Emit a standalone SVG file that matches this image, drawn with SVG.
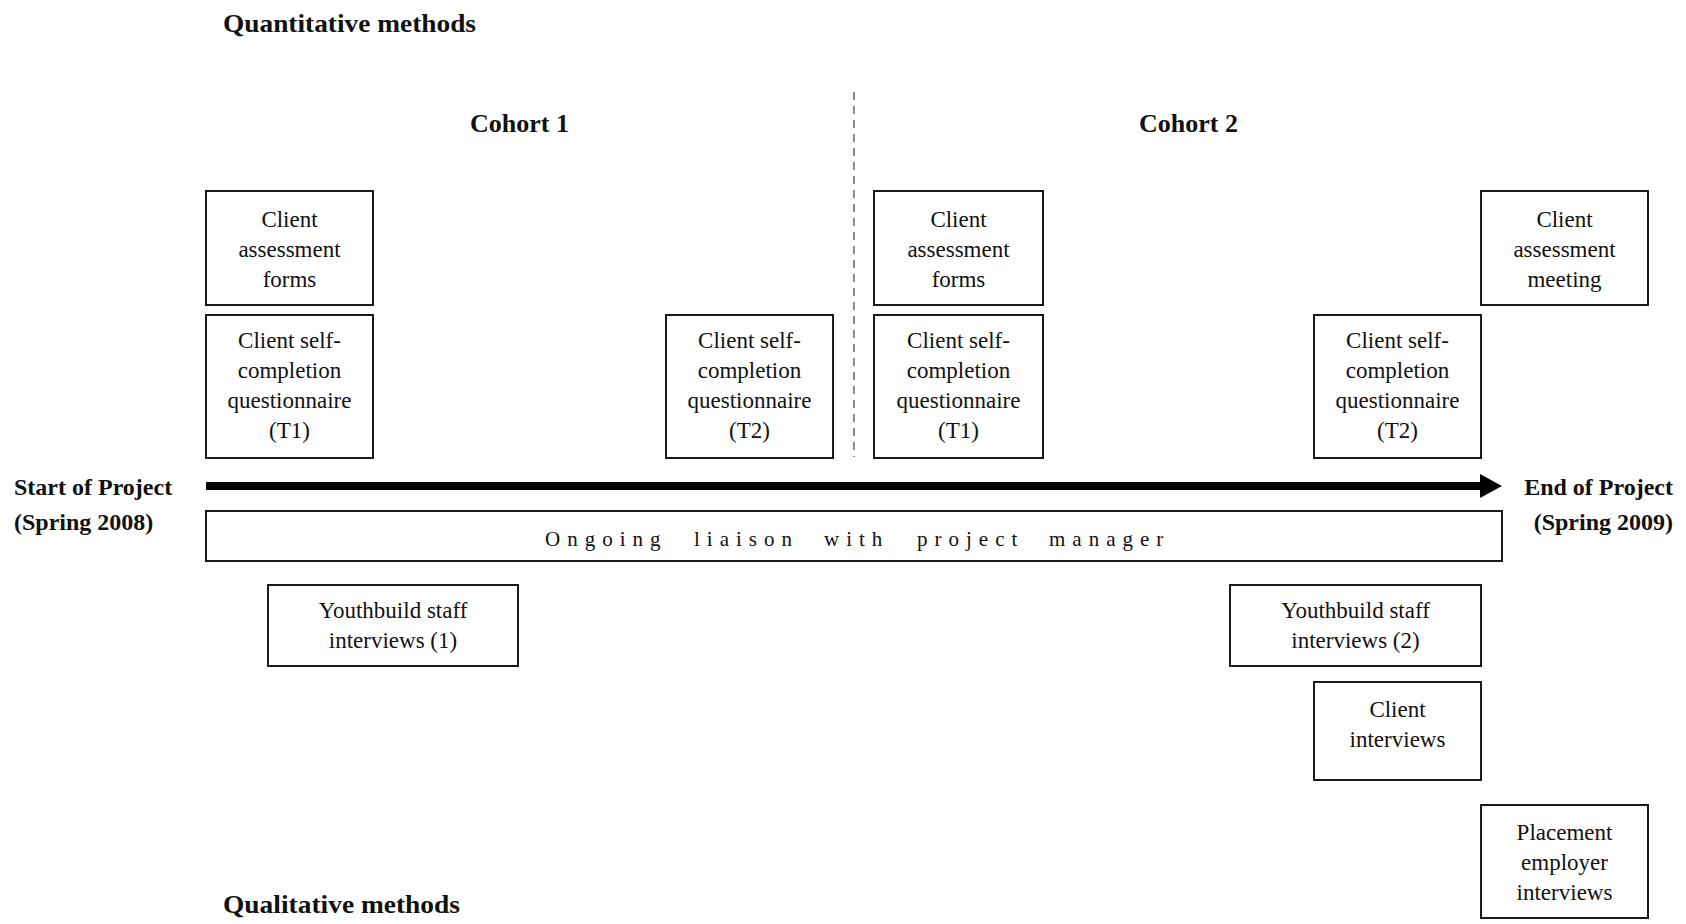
<svg xmlns="http://www.w3.org/2000/svg" width="1686" height="924" viewBox="0 0 1686 924">
<style>
  text { font-family: "Liberation Serif", "Times New Roman", serif; fill: #111; }
  .hd { font-size: 26px; font-weight: bold; }
  .lbl { font-size: 24px; font-weight: bold; }
  .bx { font-size: 23px; text-anchor: middle; }
  .box { fill: #fff; stroke: #1a1a1a; stroke-width: 2; }
  .sp { font-size: 21px; letter-spacing: 7px; }
</style>

<text class="hd" x="223" y="32" font-size="27" textLength="253" lengthAdjust="spacingAndGlyphs">Quantitative methods</text>
<text class="hd" x="223" y="913" font-size="27" textLength="237" lengthAdjust="spacingAndGlyphs">Qualitative methods</text>
<text class="hd" x="470" y="132">Cohort 1</text>
<text class="hd" x="1139" y="132">Cohort 2</text>

<text class="lbl" x="14" y="495">Start of Project</text>
<text class="lbl" x="14" y="530">(Spring 2008)</text>
<text class="lbl" x="1673" y="495" text-anchor="end">End of Project</text>
<text class="lbl" x="1673" y="530" text-anchor="end">(Spring 2009)</text>

<g id="connectors">
  <line x1="854" y1="92" x2="854" y2="457" stroke="#8c8c8c" stroke-width="2" stroke-dasharray="8,6"/>
  <line x1="206" y1="486" x2="1484" y2="486" stroke="#000" stroke-width="8"/>
  <polygon points="1480,474 1502,486 1480,498" fill="#000"/>
</g>

<g id="n-caf1">
  <rect class="box" x="206" y="191" width="167" height="114"/>
  <text class="bx" x="289.5" y="227">Client</text>
  <text class="bx" x="289.5" y="257">assessment</text>
  <text class="bx" x="289.5" y="287">forms</text>
</g>
<g id="n-q1c1">
  <rect class="box" x="206" y="315" width="167" height="143"/>
  <text class="bx" x="289.5" y="348">Client self-</text>
  <text class="bx" x="289.5" y="378">completion</text>
  <text class="bx" x="289.5" y="408">questionnaire</text>
  <text class="bx" x="289.5" y="438">(T1)</text>
</g>
<g id="n-q2c1">
  <rect class="box" x="666" y="315" width="167" height="143"/>
  <text class="bx" x="749.5" y="348">Client self-</text>
  <text class="bx" x="749.5" y="378">completion</text>
  <text class="bx" x="749.5" y="408">questionnaire</text>
  <text class="bx" x="749.5" y="438">(T2)</text>
</g>
<g id="n-caf2">
  <rect class="box" x="874" y="191" width="169" height="114"/>
  <text class="bx" x="958.5" y="227">Client</text>
  <text class="bx" x="958.5" y="257">assessment</text>
  <text class="bx" x="958.5" y="287">forms</text>
</g>
<g id="n-q1c2">
  <rect class="box" x="874" y="315" width="169" height="143"/>
  <text class="bx" x="958.5" y="348">Client self-</text>
  <text class="bx" x="958.5" y="378">completion</text>
  <text class="bx" x="958.5" y="408">questionnaire</text>
  <text class="bx" x="958.5" y="438">(T1)</text>
</g>
<g id="n-q2c2">
  <rect class="box" x="1314" y="315" width="167" height="143"/>
  <text class="bx" x="1397.5" y="348">Client self-</text>
  <text class="bx" x="1397.5" y="378">completion</text>
  <text class="bx" x="1397.5" y="408">questionnaire</text>
  <text class="bx" x="1397.5" y="438">(T2)</text>
</g>
<g id="n-cam">
  <rect class="box" x="1481" y="191" width="167" height="114"/>
  <text class="bx" x="1564.5" y="227">Client</text>
  <text class="bx" x="1564.5" y="257">assessment</text>
  <text class="bx" x="1564.5" y="287">meeting</text>
</g>

<g id="n-liaison">
  <rect class="box" x="206" y="511" width="1296" height="50"/>
  <text class="sp" y="546"><tspan x="545">Ongoing</tspan><tspan x="694">liaison</tspan><tspan x="824">with</tspan><tspan x="917">project</tspan><tspan x="1049">manager</tspan></text>
</g>

<g id="n-ys1">
  <rect class="box" x="268" y="585" width="250" height="81"/>
  <text class="bx" x="393" y="618">Youthbuild staff</text>
  <text class="bx" x="393" y="648">interviews (1)</text>
</g>
<g id="n-ys2">
  <rect class="box" x="1230" y="585" width="251" height="81"/>
  <text class="bx" x="1355.5" y="618">Youthbuild staff</text>
  <text class="bx" x="1355.5" y="648">interviews (2)</text>
</g>
<g id="n-ci">
  <rect class="box" x="1314" y="682" width="167" height="98"/>
  <text class="bx" x="1397.5" y="717">Client</text>
  <text class="bx" x="1397.5" y="747">interviews</text>
</g>
<g id="n-pe">
  <rect class="box" x="1481" y="805" width="167" height="113"/>
  <text class="bx" x="1564.5" y="840">Placement</text>
  <text class="bx" x="1564.5" y="870">employer</text>
  <text class="bx" x="1564.5" y="900">interviews</text>
</g>
</svg>
